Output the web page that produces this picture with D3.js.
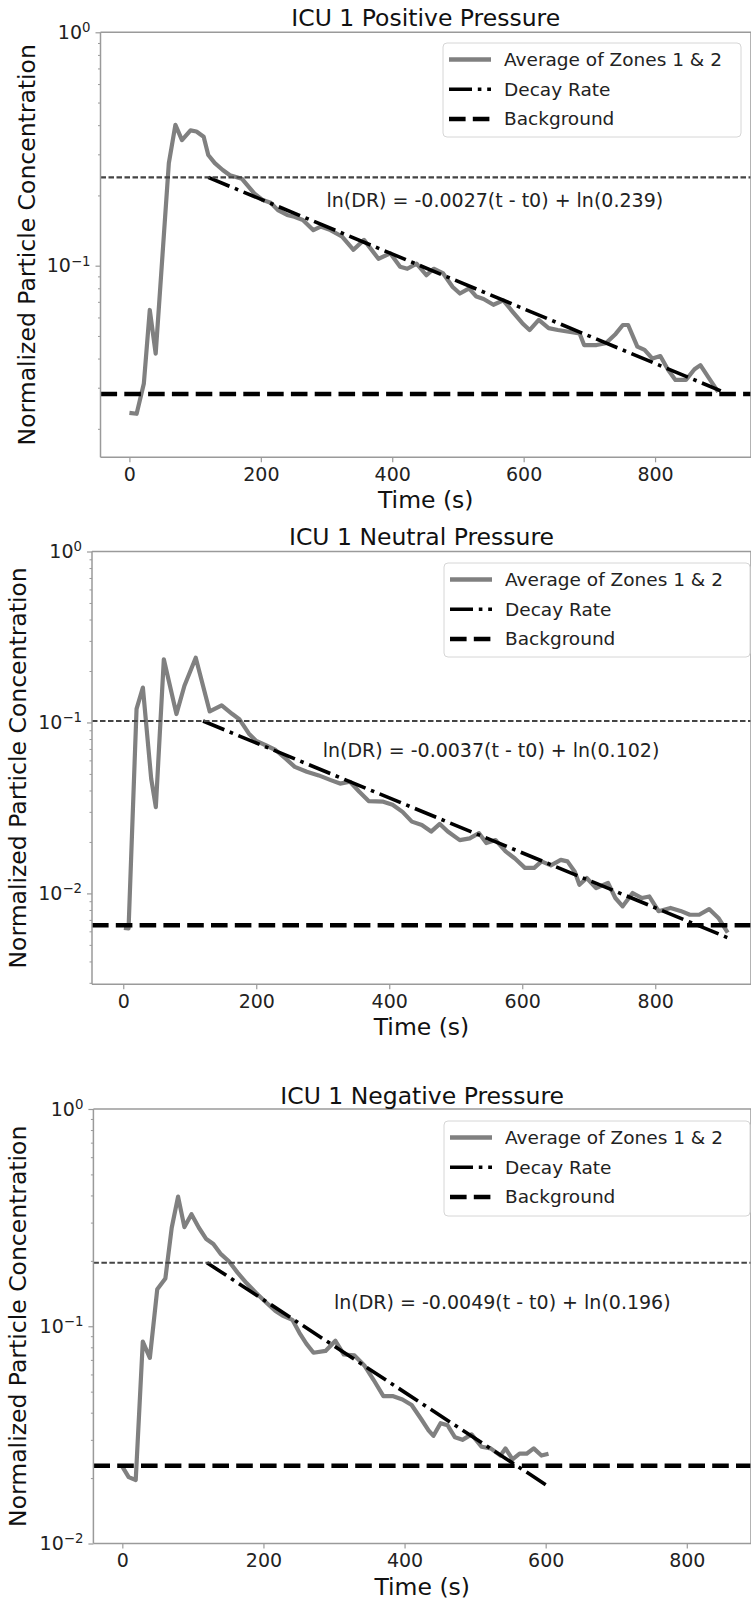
<!DOCTYPE html>
<html>
<head>
<meta charset="utf-8">
<script src="https://cdn.jsdelivr.net/npm/d3@7"></script>
<style>
  body { margin: 0; background: #fff; }
  svg text { font-family: "DejaVu Sans", sans-serif; }
</style>
</head>
<body>
<svg id="fig" width="751" height="1606"></svg>
<script>
// ---- data ----
// ICU 1 positive pressure
const posTime = [0, 11, 22, 31, 40, 60, 70, 80, 93, 102, 113, 120, 130, 142, 153, 171, 190, 203, 215, 226,
  240, 251, 264, 280, 291, 306, 324, 341, 357, 379, 397, 412, 423, 437, 452, 463, 477, 492, 503, 517,
  528, 539, 554, 569, 583, 598, 609, 623, 638, 652, 671, 685, 692, 711, 725, 740, 751, 759, 773, 784,
  796, 808, 820, 831, 847, 860, 869, 882, 896];
const posConc = [0.0234, 0.0232, 0.0313, 0.0646, 0.042, 0.275, 0.401, 0.345, 0.38, 0.376, 0.357, 0.298, 0.275, 0.257, 0.244, 0.236, 0.204, 0.191, 0.186, 0.173,
  0.165, 0.162, 0.157, 0.142, 0.147, 0.142, 0.133, 0.117, 0.129, 0.107, 0.113, 0.099, 0.097, 0.102, 0.091, 0.097, 0.093, 0.081, 0.076, 0.080,
  0.0737, 0.072, 0.068, 0.071, 0.0636, 0.0567, 0.053, 0.0586, 0.054, 0.053, 0.052, 0.0513, 0.0457, 0.0457, 0.0465, 0.051, 0.0557, 0.0557, 0.045, 0.0436,
  0.040, 0.041, 0.0357, 0.0324, 0.0324, 0.036, 0.0375, 0.033, 0.0288];

// ICU 1 neutral pressure
const neuTime = [1, 8, 20, 29.5, 42, 49, 61, 80, 92, 109, 130, 148, 164, 175, 189, 200, 215, 229, 243, 258,
  276, 294, 312, 326, 341, 355, 369, 391, 405, 420, 434, 449, 463, 476, 488, 506, 521, 535, 546, 560,
  575, 589, 604, 618, 629, 643, 658, 668, 679, 686, 697, 711, 729, 740, 751, 766, 780, 791, 805, 823,
  838, 852, 866, 881, 895, 909];
const neuConc = [0.00629, 0.00625, 0.12, 0.160, 0.0469, 0.032, 0.234, 0.112, 0.164, 0.239, 0.116, 0.126, 0.112, 0.104, 0.086, 0.078, 0.0733, 0.069, 0.062, 0.055,
  0.0515, 0.049, 0.046, 0.0439, 0.045, 0.0393, 0.0347, 0.0344, 0.033, 0.030, 0.0263, 0.0251, 0.023, 0.0255, 0.023, 0.0205, 0.021, 0.0225, 0.0197, 0.0205,
  0.0176, 0.016, 0.0141, 0.0141, 0.0154, 0.0146, 0.0157, 0.0154, 0.0134, 0.01124, 0.0123, 0.01075, 0.0115, 0.0094, 0.0084, 0.01005, 0.0094, 0.0096, 0.00787, 0.00822,
  0.0079, 0.0075, 0.0075, 0.0081, 0.00719, 0.00589];

// ICU 1 negative pressure
const negTime = [0, 9, 19, 29, 39, 49.5, 61, 70, 79, 88, 98, 108.5, 119, 129, 139, 151, 163, 176, 190, 203.5,
  217, 227, 241, 251, 261, 271, 288, 302, 314, 329, 343, 356, 370, 383, 397, 410, 424, 434, 441, 451,
  461, 471.5, 482, 495, 509, 522, 536, 543, 553, 563, 573, 583, 594, 604];
const negConc = [0.0226, 0.0202, 0.0196, 0.0849, 0.0715, 0.148, 0.166, 0.284, 0.395, 0.286, 0.328, 0.284, 0.252, 0.239, 0.216, 0.199, 0.177, 0.158, 0.142, 0.129,
  0.1175, 0.112, 0.107, 0.0933, 0.083, 0.0755, 0.077, 0.0857, 0.0741, 0.0734, 0.066, 0.0567, 0.0477, 0.0477, 0.046, 0.0434, 0.0372, 0.0332, 0.0313, 0.0358,
  0.035, 0.0308, 0.030, 0.0318, 0.0279, 0.0274, 0.0254, 0.0274, 0.0244, 0.0259, 0.0259, 0.0274, 0.0254, 0.0259];

const panelTitles = ["ICU 1 Positive Pressure", "ICU 1 Neutral Pressure", "ICU 1 Negative Pressure"];
const legendLabels = ["Average of Zones 1 & 2", "Decay Rate", "Background"];
const xTickValues = [0, 200, 400, 600, 800];

// fitted decay: ln(DR) = -k(t - t0) + ln(A)
const decayK = [0.0027, 0.0037, 0.0049];
const decayA = [0.239, 0.102, 0.196];
const decayT0 = [120, 120, 120];
const decayTEnd = [900, 910, 600];
const decayLabels = ["ln(DR) = -0.0027(t - t0) + ln(0.239)",
  "ln(DR) = -0.0037(t - t0) + ln(0.102)",
  "ln(DR) = -0.0049(t - t0) + ln(0.196)"];
const labelPosT = [300, 300, 300];
const labelPosC = [0.191, 0.069, 0.129];
const backgroundLevel = [0.0282, 0.00652, 0.0228];

// ---- layout of the three stacked axes ----
const panels = [
  { id: 0, time: posTime, conc: posConc, left: 100.5, right: 751, top: 32.3, bottom: 457.3,
    xDom: [-44, 946], yDom: [0.0151, 1], titleY: 18, ylabelX: 27, legend: { x: 443, y: 43, w: 298, h: 94 } },
  { id: 1, time: neuTime, conc: neuConc, left: 92, right: 751, top: 551.5, bottom: 984.3,
    xDom: [-47, 944], yDom: [0.00294, 1], titleY: 537, ylabelX: 18, legend: { x: 444, y: 563, w: 306, h: 94 } },
  { id: 2, time: negTime, conc: negConc, left: 93.4, right: 751, top: 1109, bottom: 1543.5,
    xDom: [-41, 891], yDom: [0.01, 1], titleY: 1096, ylabelX: 18, legend: { x: 444, y: 1121, w: 306, h: 95 } }
];

const svg = d3.select("#fig");
const spineColor = "#9a9a9a";
const textColor = "#222";
const dataGray = "#808080";

const decayDash = "23,5.8,3.6,5.8";
const bgDash = "16.6,7.2";
const refDash = "5.5,2.5";

function drawPanel(p) {
  const i = p.id;
  const x = d3.scaleLinear().domain(p.xDom).range([p.left, p.right]);
  const y = d3.scaleLog().domain(p.yDom).range([p.bottom, p.top]);
  const g = svg.append("g");

  const clipId = "clip" + i;
  svg.append("clipPath").attr("id", clipId).append("rect")
    .attr("x", p.left).attr("y", p.top)
    .attr("width", p.right - p.left).attr("height", p.bottom - p.top);

  // log ticks: majors at decades, minors at 2..9
  const lo = Math.floor(Math.log10(p.yDom[0]));
  const hi = Math.ceil(Math.log10(p.yDom[1]));
  const major = [], minor = [];
  for (let e = lo; e <= hi; e++) {
    const base = Math.pow(10, e);
    if (base >= p.yDom[0] * 0.999 && base <= p.yDom[1] * 1.001) major.push(base);
    for (let m = 2; m < 10; m++) {
      const v = m * base;
      if (v > p.yDom[0] && v < p.yDom[1]) minor.push(v);
    }
  }

  g.append("g").attr("transform", `translate(${p.left},0)`)
    .call(d3.axisLeft(y).tickValues(minor).tickSize(2.5).tickFormat(""))
    .call(a => a.select(".domain").remove())
    .call(a => a.selectAll("line").attr("stroke", spineColor).attr("stroke-width", 1));

  const ya = g.append("g").attr("transform", `translate(${p.left},0)`)
    .call(d3.axisLeft(y).tickValues(major).tickSize(5).tickPadding(5).tickFormat(""))
    .call(a => a.select(".domain").remove())
    .call(a => a.selectAll("line").attr("stroke", spineColor).attr("stroke-width", 1.2));
  ya.selectAll(".tick text")
    .attr("font-size", 19).attr("fill", textColor)
    .each(function (d) {
      const t = d3.select(this);
      const e = Math.round(Math.log10(d));
      t.append("tspan").text("10");
      t.append("tspan").attr("dy", "-0.5em").attr("font-size", "0.7em")
        .text(e === 0 ? "0" : "\u2212" + (-e));
    });

  g.append("g").attr("transform", `translate(0,${p.bottom})`)
    .call(d3.axisBottom(x).tickValues(xTickValues).tickSize(5).tickPadding(5))
    .call(a => a.select(".domain").remove())
    .call(a => a.selectAll("line").attr("stroke", spineColor).attr("stroke-width", 1.2))
    .call(a => a.selectAll("text").attr("font-size", 19).attr("fill", textColor));

  // data curve
  const pts = p.time.map((t, k) => [t, p.conc[k]]);
  const line = d3.line().x(d => x(d[0])).y(d => y(d[1]));
  const plot = g.append("g").attr("clip-path", `url(#${clipId})`);
  plot.append("path").datum(pts).attr("d", line)
    .attr("fill", "none").attr("stroke", dataGray).attr("stroke-width", 4.2)
    .attr("stroke-linejoin", "round");

  // fitted decay line
  const fit = [[decayT0[i], decayA[i]],
    [decayTEnd[i], decayA[i] * Math.exp(-decayK[i] * (decayTEnd[i] - decayT0[i]))]];
  plot.append("path").datum(fit).attr("d", line)
    .attr("fill", "none").attr("stroke", "#000").attr("stroke-width", 3.6)
    .attr("stroke-dasharray", decayDash);

  // background level
  plot.append("line")
    .attr("x1", p.left).attr("x2", p.right)
    .attr("y1", y(backgroundLevel[i])).attr("y2", y(backgroundLevel[i]))
    .attr("stroke", "#000").attr("stroke-width", 4.5).attr("stroke-dasharray", bgDash);

  // reference line at the fit start level
  plot.append("line")
    .attr("x1", p.left).attr("x2", p.right)
    .attr("y1", y(decayA[i])).attr("y2", y(decayA[i]))
    .attr("stroke", "#444").attr("stroke-width", 2.2).attr("stroke-dasharray", refDash);

  // spines
  const sp = g.append("g").attr("stroke", spineColor).attr("stroke-width", 1.5);
  sp.append("line").attr("x1", p.left).attr("x2", p.right).attr("y1", p.top).attr("y2", p.top);
  sp.append("line").attr("x1", p.left).attr("x2", p.right).attr("y1", p.bottom).attr("y2", p.bottom);
  sp.append("line").attr("x1", p.left).attr("x2", p.left).attr("y1", p.top).attr("y2", p.bottom);
  sp.append("line").attr("x1", p.right).attr("x2", p.right).attr("y1", p.top).attr("y2", p.bottom);

  // equation label
  g.append("text")
    .attr("x", x(labelPosT[i])).attr("y", y(labelPosC[i]))
    .attr("dominant-baseline", "central")
    .attr("font-size", 19).attr("fill", textColor)
    .text(decayLabels[i]);

  // legend
  const L = p.legend;
  const lg = g.append("g");
  lg.append("rect").attr("x", L.x).attr("y", L.y).attr("width", L.w).attr("height", L.h)
    .attr("rx", 4).attr("fill", "#fff").attr("fill-opacity", 0.85)
    .attr("stroke", "#d6d6d6").attr("stroke-width", 1);
  const styles = [
    { stroke: dataGray, w: 4.5, dash: null },
    { stroke: "#000", w: 3.6, dash: decayDash },
    { stroke: "#000", w: 4.5, dash: bgDash }
  ];
  legendLabels.forEach((lab, k) => {
    const cy = L.y + 16.5 + k * 29.7;
    const s = styles[k];
    const ln = lg.append("line").attr("x1", L.x + 6).attr("x2", L.x + 48)
      .attr("y1", cy).attr("y2", cy)
      .attr("stroke", s.stroke).attr("stroke-width", s.w);
    if (s.dash) ln.attr("stroke-dasharray", s.dash);
    lg.append("text").attr("x", L.x + 61).attr("y", cy)
      .attr("dominant-baseline", "central")
      .attr("font-size", 18.5).attr("fill", textColor).text(lab);
  });

  // titles
  g.append("text").attr("x", (p.left + p.right) / 2).attr("y", p.titleY)
    .attr("text-anchor", "middle").attr("dominant-baseline", "central")
    .attr("font-size", 23.5).attr("fill", "#111").text(panelTitles[i]);
  g.append("text").attr("x", (p.left + p.right) / 2).attr("y", p.bottom + 43)
    .attr("text-anchor", "middle").attr("dominant-baseline", "central")
    .attr("font-size", 23.5).attr("fill", "#111").text("Time (s)");
  g.append("text")
    .attr("transform", `translate(${p.ylabelX},${(p.top + p.bottom) / 2}) rotate(-90)`)
    .attr("text-anchor", "middle").attr("dominant-baseline", "central")
    .attr("font-size", 23.5).attr("fill", "#111").text("Normalized Particle Concentration");
}

panels.forEach(drawPanel);
</script>
</body>
</html>
